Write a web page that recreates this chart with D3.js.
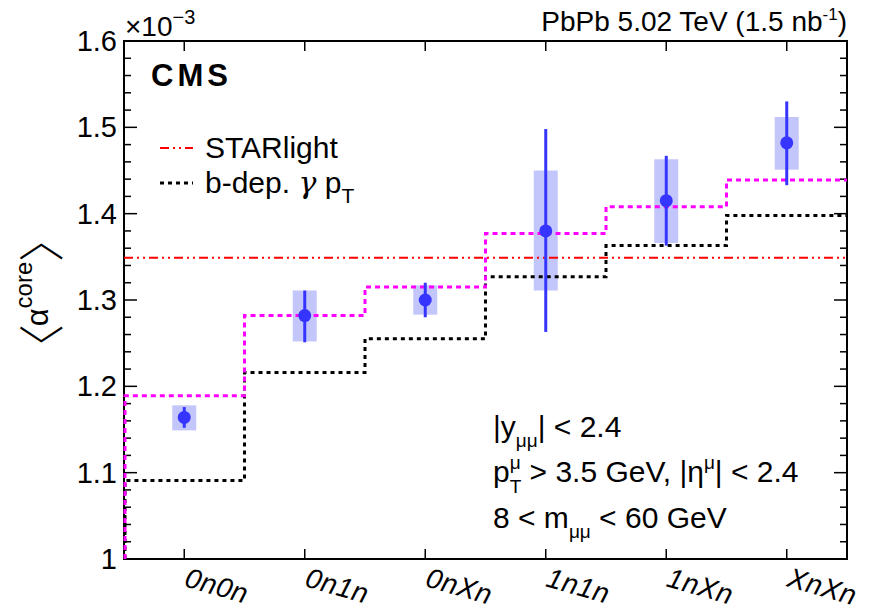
<!DOCTYPE html>
<html>
<head>
<meta charset="utf-8">
<script src="https://cdn.jsdelivr.net/npm/d3@7"></script>
<style>
  html, body { margin: 0; padding: 0; background: #ffffff; }
  svg { display: block; font-family: "Liberation Sans", Arial, Helvetica, sans-serif; }
</style>
</head>
<body>
<script>
// ---------------- data ----------------
const categories = ["0n0n", "0n1n", "0nXn", "1n1n", "1nXn", "XnXn"];
const alphaCore   = [1.164, 1.282, 1.300, 1.380, 1.415, 1.482];
const statLow     = [1.152, 1.251, 1.280, 1.263, 1.363, 1.433];
const statHigh    = [1.176, 1.311, 1.320, 1.498, 1.467, 1.530];
const systLow     = [1.149, 1.252, 1.283, 1.311, 1.366, 1.451];
const systHigh    = [1.178, 1.311, 1.317, 1.450, 1.463, 1.512];
const bDepGammaPt = [1.091, 1.216, 1.255, 1.327, 1.363, 1.398];
const bDepVariant = [1.189, 1.282, 1.315, 1.377, 1.408, 1.439];
const starlightValue = 1.349;
const yMajorTicks = [1.0, 1.1, 1.2, 1.3, 1.4, 1.5, 1.6];
const yTickLabels = ["1", "1.1", "1.2", "1.3", "1.4", "1.5", "1.6"];
const yMinorTicks = d3.range(0, 31).map(i => +(1.0 + i * 0.02).toFixed(2));

// ---------------- layout ----------------
const W = 874, H = 614;
const L = 124, R = 847, T = 41, B = 559;

const svg = d3.select("body").append("svg").attr("width", W).attr("height", H);
svg.append("rect").attr("width", W).attr("height", H).attr("fill", "#fff");

const x = d3.scaleBand().domain(categories).range([L, R]).padding(0);
const y = d3.scaleLinear().domain([1.0, 1.6]).range([B, T]);
const cx = c => x(c) + x.bandwidth() / 2;

// ---------------- axes / frame ----------------
const axes = svg.append("g").attr("stroke", "#000");
axes.append("rect").attr("x", L).attr("y", T).attr("width", R - L).attr("height", B - T)
  .attr("fill", "none").attr("stroke-width", 2);

const minorOnly = yMinorTicks.filter(v => !yMajorTicks.some(m => Math.abs(m - v) < 1e-6));
axes.selectAll("line.lmin").data(minorOnly).join("line")
  .attr("x1", L).attr("x2", L + 7).attr("y1", d => y(d)).attr("y2", d => y(d)).attr("stroke-width", 1.5);
axes.selectAll("line.rmin").data(minorOnly).join("line")
  .attr("x1", R).attr("x2", R - 7).attr("y1", d => y(d)).attr("y2", d => y(d)).attr("stroke-width", 1.5);
axes.selectAll("line.lmaj").data(yMajorTicks).join("line")
  .attr("x1", L).attr("x2", L + 13).attr("y1", d => y(d)).attr("y2", d => y(d)).attr("stroke-width", 1.5);
axes.selectAll("line.rmaj").data(yMajorTicks).join("line")
  .attr("x1", R).attr("x2", R - 13).attr("y1", d => y(d)).attr("y2", d => y(d)).attr("stroke-width", 1.5);
axes.selectAll("line.bt").data(categories).join("line")
  .attr("x1", c => cx(c)).attr("x2", c => cx(c)).attr("y1", B).attr("y2", B - 10).attr("stroke-width", 1.5);
axes.selectAll("line.tt").data(categories).join("line")
  .attr("x1", c => cx(c)).attr("x2", c => cx(c)).attr("y1", T).attr("y2", T + 10).attr("stroke-width", 1.5);

const plot = svg.append("g");

// systematic boxes
const boxW = 24;
plot.selectAll("rect.syst").data(categories).join("rect")
  .attr("class", "syst")
  .attr("x", c => cx(c) - boxW / 2)
  .attr("y", (c, i) => y(systHigh[i]))
  .attr("width", boxW)
  .attr("height", (c, i) => y(systLow[i]) - y(systHigh[i]))
  .attr("fill", "#c3c6fb");

// step histograms
function stepPoints(vals) {
  const pts = [[x(categories[0]) + 1, 1.0]];
  vals.forEach((v, i) => pts.push([x(categories[i]) + (i === 0 ? 1 : 0), v]));
  pts.push([x.range()[1], vals[vals.length - 1]]);
  return pts;
}
const stepLine = d3.line().x(d => d[0]).y(d => y(d[1])).curve(d3.curveStepAfter);

const models = plot.append("g");
models.append("path").datum(stepPoints(bDepGammaPt))
  .attr("d", stepLine).attr("fill", "none")
  .attr("stroke", "#000").attr("stroke-width", 3).attr("stroke-dasharray", "4,4");
models.append("path").datum(stepPoints(bDepVariant))
  .attr("d", stepLine).attr("fill", "none")
  .attr("stroke", "#ff00ff").attr("stroke-width", 3).attr("stroke-dasharray", "5,4");

// STARlight line
const starDash = "9,4,2,4,2,4";
models.append("line")
  .attr("x1", L).attr("x2", R)
  .attr("y1", y(starlightValue)).attr("y2", y(starlightValue))
  .attr("stroke", "#ff0000").attr("stroke-width", 2).attr("stroke-dasharray", starDash);

// stat errors + points
plot.selectAll("line.stat").data(categories).join("line")
  .attr("class", "stat")
  .attr("x1", c => cx(c)).attr("x2", c => cx(c))
  .attr("y1", (c, i) => y(statLow[i])).attr("y2", (c, i) => y(statHigh[i]))
  .attr("stroke", "#3535ff").attr("stroke-width", 3);
plot.selectAll("circle.pt").data(categories).join("circle")
  .attr("class", "pt")
  .attr("cx", c => cx(c)).attr("cy", (c, i) => y(alphaCore[i]))
  .attr("r", 6.5).attr("fill", "#3535ff");

// y tick labels
svg.selectAll("text.ylab").data(yMajorTicks).join("text")
  .attr("x", 117).attr("y", d => y(d) + 10)
  .attr("text-anchor", "end").attr("font-size", 29).attr("fill", "#000")
  .text((d, i) => yTickLabels[i]);

// x tick labels (italic, rotated)
svg.selectAll("text.xlab").data(categories).join("text")
  .attr("transform", c => `translate(${cx(c) - 1},${586}) rotate(16)`)
  .attr("font-size", 28).attr("font-style", "italic").attr("letter-spacing", 0.5)
  .attr("fill", "#000")
  .text(c => c);

// x10^-3
const exp = svg.append("text").attr("x", 125).attr("y", 36).attr("font-size", 28).attr("fill", "#000");
exp.append("tspan").text("×10");
exp.append("tspan").attr("font-size", 20).attr("dy", -12).text("−3");

// title
const title = svg.append("text").attr("x", R).attr("y", 31).attr("text-anchor", "end")
  .attr("font-size", 28).attr("fill", "#000");
title.append("tspan").text("PbPb 5.02 TeV (1.5 nb");
title.append("tspan").attr("font-size", 17).attr("dy", -11).text("-1");
title.append("tspan").attr("dy", 11).text(")");

// CMS
svg.append("text").attr("x", 151).attr("y", 86).attr("font-size", 31).attr("font-weight", "bold")
  .attr("letter-spacing", 4).attr("fill", "#000").text("CMS");

// legend
const leg = svg.append("g");
leg.append("line").attr("x1", 160).attr("x2", 193).attr("y1", 148).attr("y2", 148)
  .attr("stroke", "#ff0000").attr("stroke-width", 2).attr("stroke-dasharray", starDash);
leg.append("text").attr("x", 205).attr("y", 158).attr("font-size", 30).attr("fill", "#000").text("STARlight");
leg.append("line").attr("x1", 160).attr("x2", 193).attr("y1", 183).attr("y2", 183)
  .attr("stroke", "#000").attr("stroke-width", 3).attr("stroke-dasharray", "4,4");
const l2 = leg.append("text").attr("x", 205).attr("y", 193).attr("font-size", 30).attr("fill", "#000");
l2.append("tspan").text("b-dep. ");
l2.append("tspan").attr("font-family", "DejaVu Serif").attr("font-style", "italic").text("γ");
l2.append("tspan").text(" p");
l2.append("tspan").attr("font-size", 21).attr("dy", 10).text("T");

// annotations
const aSize = 30, sSize = 19;
const a1 = svg.append("text").attr("x", 493).attr("y", 437).attr("font-size", aSize).attr("fill", "#000");
a1.append("tspan").text("|y");
a1.append("tspan").attr("font-size", sSize).attr("dy", 10).text("μμ");
a1.append("tspan").attr("dy", -10).text("| < 2.4");

const a2 = svg.append("text").attr("x", 493).attr("y", 482).attr("font-size", aSize).attr("fill", "#000");
a2.append("tspan").text("p");
a2.append("tspan").attr("font-size", sSize).attr("dy", -13).text("μ");
a2.append("tspan").attr("font-size", sSize).attr("dx", -11).attr("dy", 24).text("T");
a2.append("tspan").attr("dy", -11).text(" > 3.5 GeV, |η");
a2.append("tspan").attr("font-size", sSize).attr("dy", -13).text("μ");
a2.append("tspan").attr("dy", 13).text("| < 2.4");

const a3 = svg.append("text").attr("x", 493).attr("y", 528).attr("font-size", aSize).attr("fill", "#000");
a3.append("tspan").text("8 < m");
a3.append("tspan").attr("font-size", sSize).attr("dy", 10).text("μμ");
a3.append("tspan").attr("dy", -10).text(" < 60 GeV");

// y-axis title  ⟨α^core⟩
const yt = svg.append("text").attr("transform", "translate(48,293) rotate(-90)")
  .attr("text-anchor", "middle").attr("font-size", 31).attr("fill", "#000");
yt.append("tspan").attr("font-family", "'Noto Sans CJK SC'").attr("font-weight", 300).attr("font-size", 46).attr("dy", 10).text("〈");
yt.append("tspan").attr("dx", -2).attr("dy", -10).text("α");
yt.append("tspan").attr("font-size", 24).attr("dy", -16).text("core");
yt.append("tspan").attr("font-family", "'Noto Sans CJK SC'").attr("font-weight", 300).attr("font-size", 46).attr("dy", 26).text("〉");
</script>
</body>
</html>
